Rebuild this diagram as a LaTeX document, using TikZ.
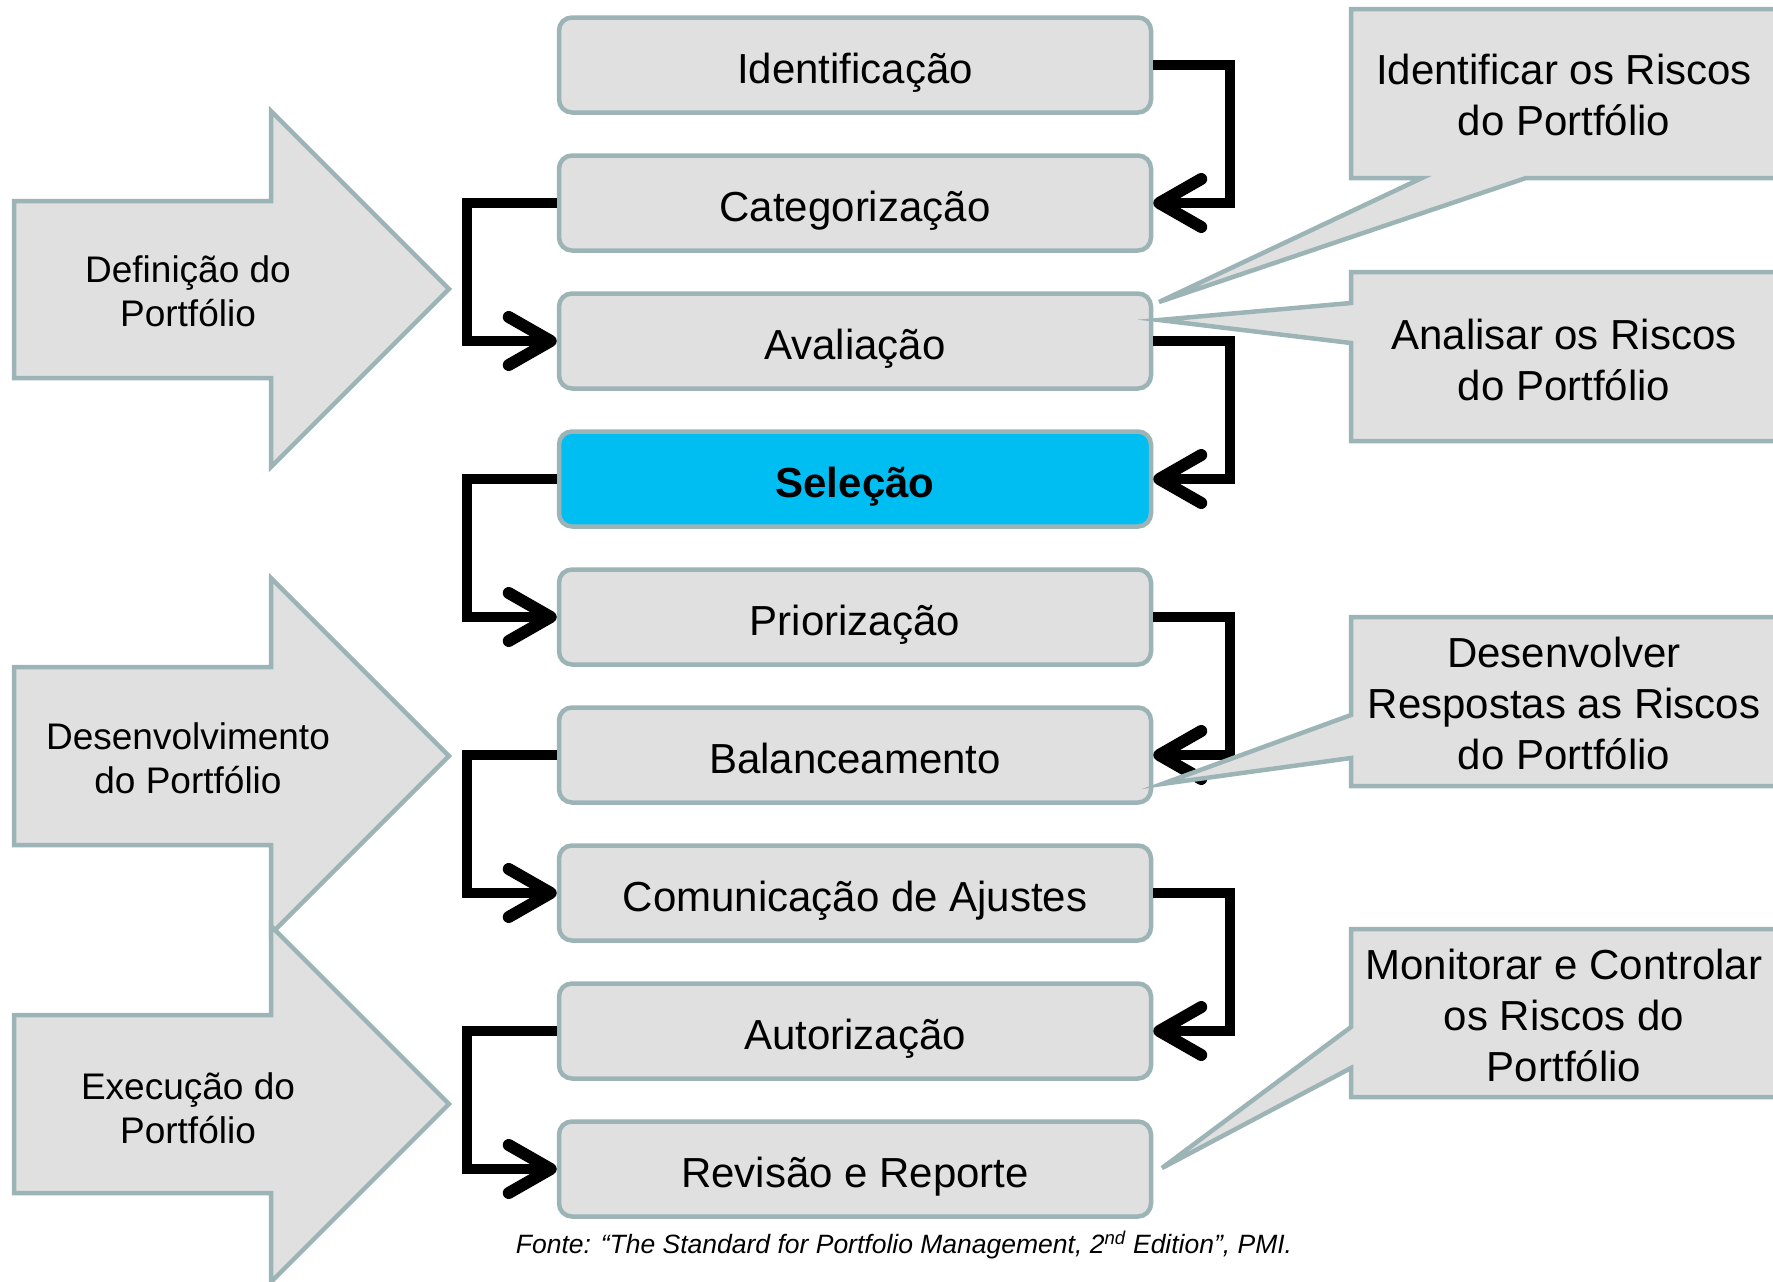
\documentclass[tikz,border=0pt]{standalone}
\usepackage{fontspec}
\setmainfont{Liberation Sans}
\usetikzlibrary{arrows.meta}
\definecolor{bordc}{HTML}{9DB4B7}
\definecolor{fillc}{HTML}{E0E0E0}
\definecolor{selc}{HTML}{00BEF2}
\begin{document}
\begin{tikzpicture}[x=1pt,y=-1pt,
  stepbox/.style={draw=bordc, fill=fillc, line width=4.5pt, rounded corners=13pt,
    minimum width=592pt, minimum height=95pt, inner sep=0pt,
    text height=42pt, text depth=6pt,
    font=\fontsize{42}{51}\selectfont},
  flow/.style={line width=10pt, -{Straight Barb[length=42pt,width=48pt,line width=12pt,round]}},
  shapeline/.style={draw=bordc, fill=fillc, line width=4.5pt, line join=miter},
  phasetext/.style={font=\fontsize{37}{44}\selectfont, align=center, inner sep=0pt},
  notetext/.style={font=\fontsize{42}{51}\selectfont, align=center, inner sep=0pt}]
\useasboundingbox (0,0) rectangle (1773,1282);
\clip (0,0) rectangle (1773,1282);

% phase block arrows
\draw[shapeline] (14,201) -- (271,201) -- (271,111) -- (449,289) -- (271,467) -- (271,378) -- (14,378) -- cycle;
\draw[shapeline] (14,667) -- (271,667) -- (271,578) -- (449,756) -- (271,934) -- (271,845) -- (14,845) -- cycle;
\draw[shapeline] (14,1015) -- (271,1015) -- (271,926) -- (449,1104) -- (271,1282) -- (271,1193) -- (14,1193) -- cycle;
\node[phasetext] (p1) at (188,291) {Definição do\\Portfólio};
\node[phasetext] (p2) at (188,758) {Desenvolvimento\\do Portfólio};
\node[phasetext] (p3) at (188,1108) {Execução do\\Portfólio};

% process boxes
\node[stepbox] (b1) at (855,65) {Identificação};
\node[stepbox] (b2) at (855,203) {Categorização};
\node[stepbox] (b3) at (855,341) {Avaliação};
\node[stepbox, fill=selc, font=\fontsize{42}{51}\selectfont\bfseries] (b4) at (855,479) {Seleção};
\node[stepbox] (b5) at (855,617) {Priorização};
\node[stepbox] (b6) at (855,755) {Balanceamento};
\node[stepbox] (b7) at (855,893) {Comunicação de Ajustes};
\node[stepbox] (b8) at (855,1031) {Autorização};
\node[stepbox] (b9) at (855,1169) {Revisão e Reporte};

% connectors
\draw[flow] (b1.east) -- ++(77,0) |- (b2.east);
\draw[flow] (b2.west) -- ++(-90,0) |- (b3.west);
\draw[flow] (b3.east) -- ++(77,0) |- (b4.east);
\draw[flow] (b4.west) -- ++(-90,0) |- (b5.west);
\draw[flow] (b5.east) -- ++(77,0) |- (b6.east);
\draw[flow] (b6.west) -- ++(-90,0) |- (b7.west);
\draw[flow] (b7.east) -- ++(77,0) |- (b8.east);
\draw[flow] (b8.west) -- ++(-90,0) |- (b9.west);

% callouts
\draw[shapeline] (1351,9) -- (1780,9) -- (1780,178) -- (1526,178) -- (1159,302) -- (1422,178) -- (1351,178) -- cycle;
\draw[shapeline] (1351,272) -- (1780,272) -- (1780,441) -- (1351,441) -- (1351,343) -- (1159,320) -- (1351,303) -- cycle;
\draw[shapeline] (1351,617) -- (1780,617) -- (1780,786) -- (1351,786) -- (1351,758) -- (1162,784) -- (1351,715) -- cycle;
\draw[shapeline] (1351,929) -- (1780,929) -- (1780,1097) -- (1351,1097) -- (1351,1068) -- (1162,1168) -- (1351,1027) -- cycle;
\node[notetext] (c1) at (1564,95) {Identificar os Riscos\\do Portfólio};
\node[notetext] (c2) at (1564,360) {Analisar os Riscos\\do Portfólio};
\node[notetext] (c3) at (1564,703) {Desenvolver\\Respostas as Riscos\\do Portfólio};
\node[notetext] (c4) at (1564,1015) {Monitorar e Controlar\\os Riscos do\\Portfólio};

% source
\node[font=\fontsize{26.5}{31}\selectfont\itshape, inner sep=0pt] (src) at (904,1245)
  {Fonte: “The Standard for Portfolio Management, 2\textsuperscript{nd} Edition”, PMI.};
\end{tikzpicture}
\end{document}
